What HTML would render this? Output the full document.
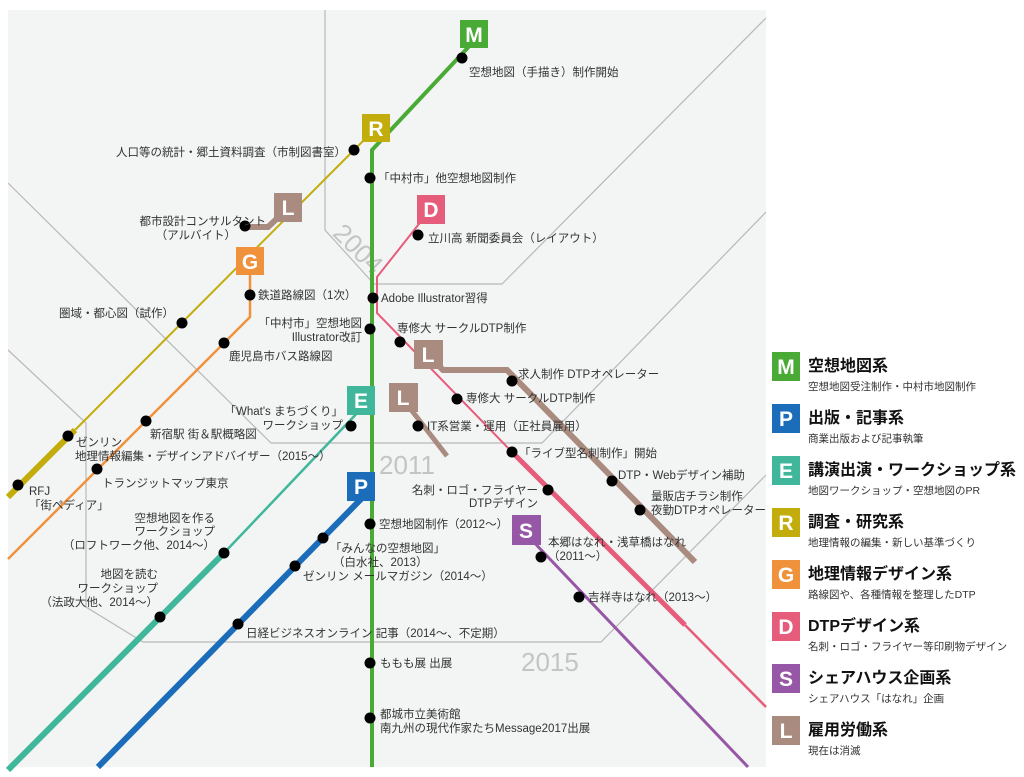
<!DOCTYPE html>
<html><head><meta charset="utf-8"><style>
html,body{margin:0;padding:0;background:#fff;}
svg{display:block;font-family:"Liberation Sans","Noto Sans CJK JP",sans-serif;}
.t{font-size:11.5px;fill:#333;}
.e{text-anchor:end;}
.b{font-size:21px;font-weight:bold;fill:#fff;text-anchor:middle;}
.lt{font-size:16px;font-weight:bold;fill:#111;}
.ls{font-size:10.5px;fill:#333;}
.g{fill:none;stroke:#b8b8b8;stroke-width:1.2;}
</style></head><body>
<svg width="1024" height="777" viewBox="0 0 1024 777">
<rect x="8" y="10" width="758" height="757" fill="#f3f4f4"/>
<!-- gray frames -->
<polyline class="g" points="325,10 325,230 374,284 502,284 766,18"/>
<polyline class="g" points="8,183 271,443 542,443 766,212"/>
<polyline class="g" points="8,350 86,423 86,607 143,642 601,642 766,475"/>
<text x="318" y="243" transform="rotate(45 335 255)" font-size="26" fill="#c4c4c4">2004</text>
<text x="379" y="474" font-size="26" fill="#c4c4c4">2011</text>
<text x="521" y="671" font-size="26" fill="#c4c4c4">2015</text>
<!-- lines -->
<polyline points="475,40 372,150 372,767" fill="none" stroke="#4aaa36" stroke-width="4"/>
<line x1="368" y1="136" x2="75" y2="430" stroke="#c3ad0c" stroke-width="2"/>
<line x1="75" y1="430" x2="8" y2="497" stroke="#c3ad0c" stroke-width="6"/>
<polyline points="286,210 268,227 245,227" fill="none" stroke="#a98b7f" stroke-width="6"/>
<polyline points="250,265 250,317 8,559" fill="none" stroke="#f0923b" stroke-width="2.5"/>
<polyline points="430,210 377,277 377,313 512,452" fill="none" stroke="#e65c7b" stroke-width="2"/>
<line x1="512" y1="452" x2="685" y2="625" stroke="#e65c7b" stroke-width="5"/>
<line x1="685" y1="625" x2="766" y2="707" stroke="#e65c7b" stroke-width="2.5"/>
<polyline points="428,355 443,370 507,370 695,562" fill="none" stroke="#a98b7f" stroke-width="6"/>
<line x1="402" y1="398" x2="447" y2="456" stroke="#a98b7f" stroke-width="5"/>
<line x1="360" y1="410" x2="224" y2="553" stroke="#40b79b" stroke-width="2.5"/>
<line x1="224" y1="553" x2="8" y2="770" stroke="#40b79b" stroke-width="6"/>
<line x1="365" y1="495" x2="98" y2="767" stroke="#1b6cb9" stroke-width="6"/>
<line x1="527" y1="535" x2="748" y2="767" stroke="#9658a6" stroke-width="3"/>
<!-- badges -->
<g>
<rect x="460" y="20" width="28" height="28" fill="#4aaa36"/><text class="b" x="474" y="42">M</text>
<rect x="362" y="114" width="28" height="28" fill="#c3ad0c"/><text class="b" x="376" y="136">R</text>
<rect x="274" y="193" width="28" height="29" fill="#a98b7f"/><text class="b" x="288" y="215">L</text>
<rect x="236" y="247" width="28" height="28" fill="#f0923b"/><text class="b" x="250" y="269">G</text>
<rect x="417" y="195" width="28" height="29" fill="#e65c7b"/><text class="b" x="431" y="217">D</text>
<rect x="414" y="340" width="29" height="29" fill="#a98b7f"/><text class="b" x="428" y="362">L</text>
<rect x="389" y="383" width="29" height="29" fill="#a98b7f"/><text class="b" x="403" y="405">L</text>
<rect x="347" y="386" width="28" height="29" fill="#40b79b"/><text class="b" x="361" y="408">E</text>
<rect x="347" y="472" width="28" height="29" fill="#1b6cb9"/><text class="b" x="361" y="494">P</text>
<rect x="512" y="515" width="29" height="30" fill="#9658a6"/><text class="b" x="526" y="538">S</text>
</g>
<!-- dots -->
<g fill="#000">
<circle cx="462" cy="58" r="5.5"/><circle cx="354" cy="150" r="5.5"/><circle cx="370" cy="178" r="5.5"/>
<circle cx="245" cy="226" r="5.5"/><circle cx="418" cy="235" r="5.5"/><circle cx="250" cy="295" r="5.5"/>
<circle cx="373" cy="298" r="5.5"/><circle cx="182" cy="323" r="5.5"/><circle cx="370" cy="329" r="5.5"/>
<circle cx="400" cy="342" r="5.5"/><circle cx="224" cy="343" r="5.5"/><circle cx="512" cy="381" r="5.5"/>
<circle cx="457" cy="399" r="5.5"/><circle cx="146" cy="421" r="5.5"/><circle cx="351" cy="426" r="5.5"/>
<circle cx="418" cy="426" r="5.5"/><circle cx="68" cy="436" r="5.5"/><circle cx="512" cy="452" r="5.5"/>
<circle cx="97" cy="469" r="5.5"/><circle cx="612" cy="481" r="5.5"/><circle cx="18" cy="485" r="5.5"/>
<circle cx="548" cy="490" r="5.5"/><circle cx="640" cy="510" r="5.5"/><circle cx="370" cy="524" r="5.5"/>
<circle cx="323" cy="538" r="5.5"/><circle cx="224" cy="553" r="5.5"/><circle cx="541" cy="557" r="5.5"/>
<circle cx="295" cy="566" r="5.5"/><circle cx="579" cy="597" r="5.5"/><circle cx="160" cy="617" r="5.5"/>
<circle cx="238" cy="624" r="5.5"/><circle cx="370" cy="663" r="5.5"/><circle cx="370" cy="718" r="5.5"/>
</g>
<!-- labels -->
<g class="t">
<text x="469" y="76">空想地図（手描き）制作開始</text>
<text class="e" x="346" y="156">人口等の統計・郷土資料調査（市制図書室）</text>
<text x="378" y="182">「中村市」他空想地図制作</text>
<text class="e" x="266" y="225">都市設計コンサルタント</text>
<text class="e" x="236" y="239">（アルバイト）</text>
<text x="428" y="242">立川高 新聞委員会（レイアウト）</text>
<text x="258" y="299">鉄道路線図（1次）</text>
<text x="381" y="302">Adobe Illustrator習得</text>
<text class="e" x="174" y="317">圏域・都心図（試作）</text>
<text class="e" x="362" y="327">「中村市」空想地図</text>
<text class="e" x="362" y="341">Illustrator改訂</text>
<text x="397" y="332">専修大 サークルDTP制作</text>
<text x="229" y="360">鹿児島市バス路線図</text>
<text x="518" y="378">求人制作 DTPオペレーター</text>
<text x="466" y="402">専修大 サークルDTP制作</text>
<text class="e" x="343" y="415">「What's まちづくり」</text>
<text class="e" x="343" y="429">ワークショップ</text>
<text x="427" y="430">IT系営業・運用（正社員雇用）</text>
<text x="150" y="438">新宿駅 街＆駅概略図</text>
<text x="76" y="446">ゼンリン</text>
<text x="75" y="460">地理情報編集・デザインアドバイザー（2015〜）</text>
<text x="519" y="457">「ライブ型名刺制作」開始</text>
<text x="618" y="479">DTP・Webデザイン補助</text>
<text x="102" y="487">トランジットマップ東京</text>
<text x="29" y="495">RFJ</text>
<text x="29" y="509">「街ペディア」</text>
<text class="e" x="538" y="494">名刺・ロゴ・フライヤー</text>
<text class="e" x="538" y="507">DTPデザイン</text>
<text x="651" y="500">量販店チラシ制作</text>
<text x="651" y="514">夜勤DTPオペレーター</text>
<text class="e" x="215" y="522">空想地図を作る</text>
<text class="e" x="215" y="535">ワークショップ</text>
<text class="e" x="215" y="549">（ロフトワーク他、2014〜）</text>
<text x="379" y="528">空想地図制作（2012〜）</text>
<text x="548" y="546">本郷はなれ・浅草橋はなれ</text>
<text x="548" y="560">（2011〜）</text>
<text x="330" y="552">「みんなの空想地図」</text>
<text x="333" y="566">（白水社、2013）</text>
<text x="303" y="580">ゼンリン メールマガジン（2014〜）</text>
<text class="e" x="158" y="578">地図を読む</text>
<text class="e" x="158" y="592">ワークショップ</text>
<text class="e" x="158" y="606">（法政大他、2014〜）</text>
<text x="588" y="601">吉祥寺はなれ（2013〜）</text>
<text x="246" y="637">日経ビジネスオンライン 記事（2014〜、不定期）</text>
<text x="380" y="667">ももも展 出展</text>
<text x="380" y="718">都城市立美術館</text>
<text x="380" y="732">南九州の現代作家たちMessage2017出展</text>
</g>
<!-- legend -->
<g>
<rect x="772" y="352" width="28" height="29" fill="#4aaa36"/><text class="b" x="786" y="374">M</text>
<text class="lt" x="808" y="371">空想地図系</text><text class="ls" x="808" y="390">空想地図受注制作・中村市地図制作</text>
<rect x="772" y="404" width="28" height="29" fill="#1b6cb9"/><text class="b" x="786" y="426">P</text>
<text class="lt" x="808" y="423">出版・記事系</text><text class="ls" x="808" y="442">商業出版および記事執筆</text>
<rect x="772" y="456" width="28" height="29" fill="#40b79b"/><text class="b" x="786" y="478">E</text>
<text class="lt" x="808" y="475">講演出演・ワークショップ系</text><text class="ls" x="808" y="494">地図ワークショップ・空想地図のPR</text>
<rect x="772" y="508" width="28" height="29" fill="#c3ad0c"/><text class="b" x="786" y="530">R</text>
<text class="lt" x="808" y="527">調査・研究系</text><text class="ls" x="808" y="546">地理情報の編集・新しい基準づくり</text>
<rect x="772" y="560" width="28" height="29" fill="#f0923b"/><text class="b" x="786" y="582">G</text>
<text class="lt" x="808" y="579">地理情報デザイン系</text><text class="ls" x="808" y="598">路線図や、各種情報を整理したDTP</text>
<rect x="772" y="612" width="28" height="29" fill="#e65c7b"/><text class="b" x="786" y="634">D</text>
<text class="lt" x="808" y="631">DTPデザイン系</text><text class="ls" x="808" y="650">名刺・ロゴ・フライヤー等印刷物デザイン</text>
<rect x="772" y="664" width="28" height="29" fill="#9658a6"/><text class="b" x="786" y="686">S</text>
<text class="lt" x="808" y="683">シェアハウス企画系</text><text class="ls" x="808" y="702">シェアハウス「はなれ」企画</text>
<rect x="772" y="716" width="28" height="29" fill="#a98b7f"/><text class="b" x="786" y="738">L</text>
<text class="lt" x="808" y="735">雇用労働系</text><text class="ls" x="808" y="754">現在は消滅</text>
</g>
</svg>
</body></html>
